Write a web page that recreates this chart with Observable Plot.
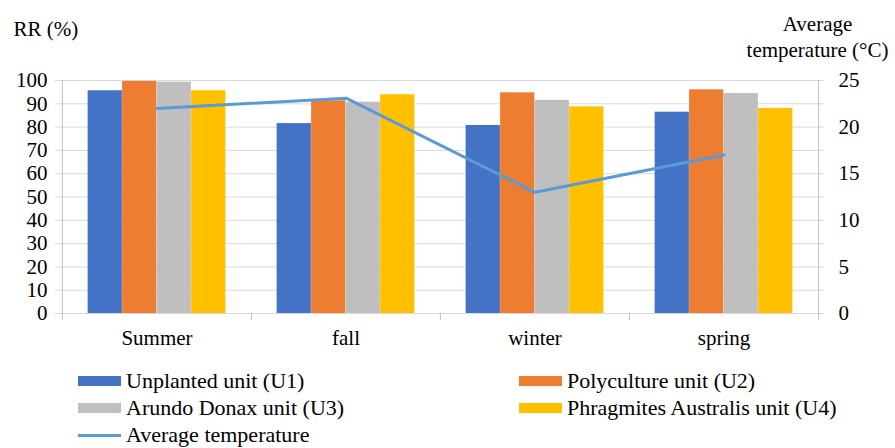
<!DOCTYPE html>
<html><head><meta charset="utf-8">
<style>
*, svg text, svg tspan { font-family: 'Liberation Serif', 'Tinos', 'Times New Roman', serif !important; }
</style>
<script src="https://cdn.jsdelivr.net/npm/d3@7"></script>
<script src="https://cdn.jsdelivr.net/npm/@observablehq/plot@0.6"></script>
</head><body style="margin:0;background:#fff;font-size:22px">
<div id="wrap"></div>
<script>
const seasons = ["Summer", "fall", "winter", "spring"];
const units = ["Unplanted unit (U1)", "Polyculture unit (U2)", "Arundo Donax unit (U3)", "Phragmites Australis unit (U4)"];
const u1 = [95.6, 81.5, 80.7, 86.4];
const u2 = [99.6, 91.3, 94.7, 96.0];
const u3 = [99.3, 90.7, 91.5, 94.4];
const u4 = [95.6, 93.9, 88.7, 88.0];
const temperature = [22, 23.1, 13, 17];
const lineLabel = "Average temperature";
const rrTitle = "RR (%)";
const tempTitle = "Average\ntemperature (\u00B0C)";
const rrTicks = [0, 10, 20, 30, 40, 50, 60, 70, 80, 90, 100];
const tempTicks = [0, 5, 10, 15, 20, 25];
const colors = ["#4472C4", "#ED7D31", "#BFBFBF", "#FFC000"];
const lineColor = "#5B9BD5";
const FONT = "Liberation Serif";

const rrMax = 100, tempMax = 25, k = rrMax / tempMax;
const W = 895, H = 360, mL = 61, mR = 77, mT = 80, mB = 47;
const bw = (W - mL - mR) / seasons.length;
const barW = 34.5;
const gap = (bw - units.length * barW) / 2;
const series = [u1, u2, u3, u4];
const grid = "#d9d9d9", axisGray = "#bfbfbf";

const marks = [
  Plot.ruleY(rrTicks, {stroke: grid, insetLeft: -6, insetRight: -6}),
  ...series.map((vals, j) => Plot.barY(
    seasons.map((s, i) => ({season: s, value: vals[i]})),
    {x: "season", y: "value", fill: colors[j],
     insetLeft: gap + j * barW, insetRight: bw - gap - (j + 1) * barW})),
  Plot.ruleX(seasons.slice(1), {x: d => d, dx: -bw / 2, y1: 0, y2: 0, insetBottom: -7, stroke: axisGray}),
  Plot.ruleX([seasons[0]], {x: d => d, dx: -bw / 2, insetBottom: -7, stroke: axisGray}),
  Plot.ruleX([seasons[seasons.length - 1]], {x: d => d, dx: bw / 2, insetBottom: -7, stroke: axisGray}),
  Plot.lineY(seasons.map((s, i) => ({season: s, t: temperature[i]})),
    {x: "season", y: d => d.t * k, stroke: lineColor, strokeWidth: 3}),
  Plot.axisY(rrTicks, {anchor: "left", tickSize: 0, tickPadding: 14, fontSize: 21, label: null}),
  Plot.axisY(tempTicks.map(t => t * k), {anchor: "right", tickSize: 0, tickPadding: 20, fontSize: 21, tickFormat: d => d / k, label: null}),
  Plot.axisX({tickSize: 0, tickPadding: 17, fontSize: 21, label: null}),
  Plot.text([rrTitle], {frameAnchor: "top-left", dx: -48, dy: -51, textAnchor: "start", lineAnchor: "middle", fontSize: 21}),
  Plot.text([tempTitle], {frameAnchor: "top-right", dx: -1, dy: -45, textAnchor: "middle", lineAnchor: "middle", lineHeight: 1.24, fontSize: 21})
];

const chart = Plot.plot({
  width: W, height: H,
  marginLeft: mL, marginRight: mR, marginTop: mT, marginBottom: mB,
  style: {fontFamily: FONT, fontSize: "21px"},
  x: {domain: seasons, padding: 0, axis: null},
  y: {domain: [0, rrMax], axis: null},
  marks
});
chart.querySelectorAll("text").forEach(el => el.setAttribute("font-family", FONT));

const wrap = document.getElementById("wrap");
Object.assign(wrap.style, {position: "relative", width: W + "px", height: "448px"});
wrap.appendChild(chart);

const legend = document.createElement("div");
Object.assign(legend.style, {position: "absolute", left: "0px", top: H + "px", width: W + "px", height: (448 - H) + "px"});
wrap.appendChild(legend);

const items = [
  {label: units[0], color: colors[0], x: 78, row: 0},
  {label: units[1], color: colors[1], x: 519, row: 0},
  {label: units[2], color: colors[2], x: 78, row: 1},
  {label: units[3], color: colors[3], x: 519, row: 1},
  {label: lineLabel, color: lineColor, x: 78, row: 2, line: true}
];
const rowY = [381, 408, 435];
for (const it of items) {
  const d = document.createElement("div");
  Object.assign(d.style, {position: "absolute", left: it.x + "px", top: (rowY[it.row] - H - 11) + "px",
    fontSize: "22px", color: "#000", lineHeight: "22px", height: "22px", whiteSpace: "nowrap",
    display: "flex", alignItems: "center"});
  const s = document.createElement("div");
  Object.assign(s.style, {width: "43px", height: it.line ? "3px" : "10px", marginRight: "5px", flex: "none", background: it.color});
  d.appendChild(s);
  const t = document.createElement("span");
  t.textContent = it.label;
  d.appendChild(t);
  legend.appendChild(d);
}
</script></body></html>
